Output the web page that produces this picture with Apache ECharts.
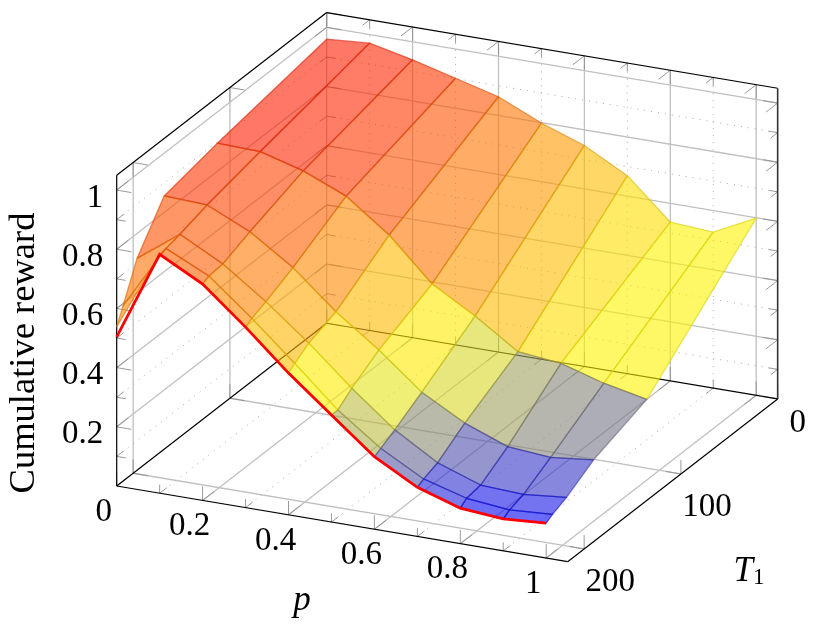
<!DOCTYPE html>
<html>
<head>
<meta charset="utf-8">
<style>
html,body{margin:0;padding:0;background:#fff}
#main{width:830px;height:627px}
</style>
<script src="https://cdn.jsdelivr.net/npm/echarts@6/dist/echarts.min.js"></script>
</head>
<body>
<div id="main"></div>
<script>
// grid of the surface
const pValues = [0, 0.1, 0.2, 0.3, 0.4, 0.5, 0.6, 0.7, 0.8, 0.9, 1]
const tValues = [0, 113, 168, 196, 210.5, 217]

// cumulative reward per row of T1
const rewardT0 = [0.960, 0.971, 0.939, 0.901, 0.863, 0.798, 0.747, 0.669, 0.537, 0.527, 0.599]
const rewardT113 = [0.895, 0.891, 0.850, 0.789, 0.682, 0.541, 0.457, 0.361, 0.346, 0.303, 0.273]
const rewardT168 = [0.856, 0.850, 0.784, 0.687, 0.562, 0.457, 0.339, 0.259, 0.204, 0.192, 0.208]
const rewardT196 = [0.716, 0.822, 0.746, 0.643, 0.527, 0.399, 0.283, 0.196, 0.145, 0.138, 0.152]
const rewardT210 = [0.592, 0.811, 0.742, 0.623, 0.495, 0.362, 0.257, 0.178, 0.137, 0.122, 0.131]
const rewardT217 = [0.538, 0.807, 0.731, 0.610, 0.479, 0.362, 0.245, 0.166, 0.120, 0.108, 0.118]
const rewardRows = [rewardT0, rewardT113, rewardT168, rewardT196, rewardT210, rewardT217]

// red curve along the front edge
const redCurve = [0.504, 0.807, 0.731, 0.610, 0.479, 0.362, 0.245, 0.166, 0.120, 0.108, 0.118]

// ticks
const pMajor = [0, 0.2, 0.4, 0.6, 0.8, 1]
const pMinor = [0.1, 0.3, 0.5, 0.7, 0.9]
const tMajor = [0, 100, 200]
const zMajor = [0.2, 0.4, 0.6, 0.8, 1]
const zMinor = [0.1, 0.3, 0.5, 0.7, 0.9]
const pLabels = ['0', '0.2', '0.4', '0.6', '0.8', '1']
const tLabels = ['0', '100', '200']
const zLabels = ['0.2', '0.4', '0.6', '0.8', '1']

// colormap: blue, yellow, red
const colorLevels = [0.11, 0.40, 1.0]
const colorValues = [[0, 0, 255], [255, 255, 0], [255, 0, 0]]

const pMax = 1.05
const tMax = 217
const zMax = 1.05
const serif = '"Liberation Serif", serif'

// the view of the 3d box
function project (p, t, z) {
  return [
    116.7 + p * 429.5 + (tMax - t) * 0.9677,
    486 + p * 72.1 - (tMax - t) * 0.75 - z * 295.9
  ]
}

function mapColor (v) {
  let k = v < colorLevels[1] ? 0 : 1
  let f = (v - colorLevels[k]) / (colorLevels[k + 1] - colorLevels[k])
  f = Math.max(0, Math.min(1, f))
  return colorValues[k].map((c, i) => c + (colorValues[k + 1][i] - c) * f)
}

// lines of the box: [p0, t0, z0, p1, t1, z1, kind]
const lineStyles = [
  { stroke: '#c0c0c0', lineWidth: 1.3 },
  { stroke: '#aaaaaa', lineWidth: 1, lineDash: [1, 6] },
  { stroke: '#8e8e8e', lineWidth: 0.9 },
  { stroke: '#000', lineWidth: 1.2 },
  { stroke: '#333', lineWidth: 1.6 }
]
const boxLines = []

function addLine (a, b, kind) {
  boxLines.push([a[0], a[1], a[2], b[0], b[1], b[2], kind])
}

function addGrid (values, kind, fn) {
  values.forEach(v => fn(v, kind))
}

// walls and floor
addGrid(pMajor.slice(1), 0, pGrid)
addGrid(pMinor, 1, pGrid)
function pGrid (p, kind) {
  addLine([p, 0, 0], [p, 0, zMax], kind)
  addLine([p, 0, 0], [p, tMax, 0], kind)
}
tMajor.forEach(t => {
  addLine([0, t, 0], [0, t, zMax], 0)
  if (t > 0) addLine([0, t, 0], [pMax, t, 0], 0)
})
addGrid(zMajor, 0, zGrid)
addGrid(zMinor, 1, zGrid)
function zGrid (z, kind) {
  addLine([0, tMax, z], [0, 0, z], kind)
  addLine([0, 0, z], [pMax, 0, z], kind)
}

// tick marks, long ones on major values
function addTick (at, dirs, major) {
  let lenP = major ? 0.034 : 0.021
  let lenT = major ? 12 : 7.3
  let lenZ = major ? 0.047 : 0.029
  dirs.forEach(d => {
    addLine(at, [at[0] + d[0] * lenP, at[1] + d[1] * lenT, at[2] + d[2] * lenZ], 2)
  })
}
function pTicks (p, major) {
  addTick([p, 0, zMax], [[0, 0, -1], [0, 1, 0]], major)
  addTick([p, tMax, 0], [[0, 0, 1], [0, -1, 0]], major)
  addTick([p, 0, 0], [[0, 0, 1], [0, 1, 0]], major)
}
function zTicks (z, major) {
  addTick([0, tMax, z], [[1, 0, 0], [0, -1, 0]], major)
  addTick([0, 0, z], [[1, 0, 0], [0, 1, 0]], major)
  addTick([pMax, 0, z], [[-1, 0, 0], [0, 1, 0]], major)
}
pMajor.forEach(p => pTicks(p, true))
pMinor.forEach(p => pTicks(p, false))
zMajor.forEach(z => zTicks(z, true))
zMinor.forEach(z => zTicks(z, false))
tMajor.forEach(t => {
  addTick([0, t, zMax], [[1, 0, 0], [0, 0, -1]], true)
  addTick([0, t, 0], [[1, 0, 0], [0, 0, 1]], true)
  addTick([pMax, t, 0], [[-1, 0, 0], [0, 0, 1]], true)
})

// box outline
addLine([0, tMax, 0], [pMax, tMax, 0], 3)
addLine([pMax, tMax, 0], [pMax, 0, 0], 3)
addLine([0, tMax, 0], [0, 0, 0], 3)
addLine([0, 0, 0], [pMax, 0, 0], 3)
addLine([0, tMax, 0], [0, tMax, zMax], 3)
addLine([0, tMax, zMax], [0, 0, zMax], 3)
addLine([0, 0, zMax], [pMax, 0, zMax], 3)
addLine([pMax, 0, 0], [pMax, 0, zMax], 4)

// surface cells, back to front
const cells = []
for (let r = 0; r < tValues.length - 1; r++) {
  for (let c = 0; c < pValues.length - 1; c++) {
    cells.push([r, c])
  }
}

// tick labels
const tickTexts = []
pLabels.forEach((s, i) => tickTexts.push({ s: s, at: [pMajor[i], tMax, 0], dx: -13, dy: 26, align: 'center' }))
zLabels.forEach((s, i) => tickTexts.push({ s: s, at: [0, tMax, zMajor[i]], dx: -13.5, dy: 8, align: 'right' }))
tLabels.forEach((s, i) => {
  let short = tMajor[i] === 0
  tickTexts.push({ s: s, at: [pMax, tMajor[i], 0], dx: short ? 20 : 26, dy: short ? 24.5 : 33, align: 'center' })
})

let chart = echarts.init(document.getElementById('main'))
chart.setOption({
  animation: false,
  backgroundColor: '#fff',
  grid: { left: 0, right: 0, top: 0, bottom: 0 },
  xAxis: { type: 'value', min: 0, max: 830, show: false },
  yAxis: { type: 'value', min: 0, max: 627, inverse: true, show: false },
  graphic: [
    {
      type: 'text', x: 24, y: 353, rotation: Math.PI / 2,
      style: { text: 'Cumulative reward', font: '36.5px ' + serif, fill: '#000', textAlign: 'center', textVerticalAlign: 'middle' }
    },
    {
      type: 'text', x: 302, y: 601,
      style: { text: 'p', font: 'italic 35px ' + serif, fill: '#000', textAlign: 'center', textVerticalAlign: 'middle' }
    },
    {
      type: 'text', x: 749, y: 572,
      style: {
        text: '{a|T}{b|1}',
        fill: '#000',
        textAlign: 'center',
        textVerticalAlign: 'middle',
        rich: {
          a: { font: 'italic 35px ' + serif, fill: '#000' },
          b: { font: '23px ' + serif, fill: '#000', verticalAlign: 'bottom', padding: [12, 0, 0, 0] }
        }
      }
    }
  ],
  series: [
    {
      type: 'custom',
      name: 'box',
      coordinateSystem: 'cartesian2d',
      silent: true,
      data: boxLines,
      renderItem (params, api) {
        let a = api.coord(project(api.value(0), api.value(1), api.value(2)))
        let b = api.coord(project(api.value(3), api.value(4), api.value(5)))
        return {
          type: 'line',
          shape: { x1: a[0], y1: a[1], x2: b[0], y2: b[1] },
          style: lineStyles[api.value(6)]
        }
      }
    },
    {
      type: 'custom',
      name: 'surface',
      coordinateSystem: 'cartesian2d',
      silent: true,
      data: cells,
      renderItem (params, api) {
        let r = api.value(0)
        let c = api.value(1)
        let corners = [[r, c], [r, c + 1], [r + 1, c + 1], [r + 1, c]]
        let sum = 0
        let points = corners.map(k => {
          let z = rewardRows[k[0]][k[1]]
          sum += z
          return api.coord(project(pValues[k[1]], tValues[k[0]], z))
        })
        let rgb = mapColor(sum / 4)
        let edge = rgb.map(v => Math.round(v * 0.85))
        return {
          type: 'polygon',
          shape: { points: points },
          style: {
            fill: 'rgba(' + rgb.map(Math.round).join(',') + ',0.6)',
            stroke: 'rgba(' + edge.join(',') + ',0.6)',
            lineWidth: 1.3,
            lineJoin: 'round'
          }
        }
      }
    },
    {
      type: 'line',
      name: 'front',
      silent: true,
      symbol: 'none',
      lineStyle: { color: '#ff0000', width: 2.8, join: 'miter', cap: 'butt' },
      data: redCurve.map((z, i) => project(pValues[i], tMax, z))
    },
    {
      type: 'custom',
      name: 'labels',
      coordinateSystem: 'cartesian2d',
      silent: true,
      data: tickTexts.map((d, i) => [i]),
      renderItem (params, api) {
        let d = tickTexts[api.value(0)]
        let pos = api.coord(project(d.at[0], d.at[1], d.at[2]))
        return {
          type: 'text',
          style: {
            text: d.s,
            x: pos[0] + d.dx,
            y: pos[1] + d.dy,
            font: '33px ' + serif,
            fill: '#000',
            textAlign: d.align,
            textVerticalAlign: 'middle'
          }
        }
      }
    }
  ]
})
</script>
</body>
</html>
